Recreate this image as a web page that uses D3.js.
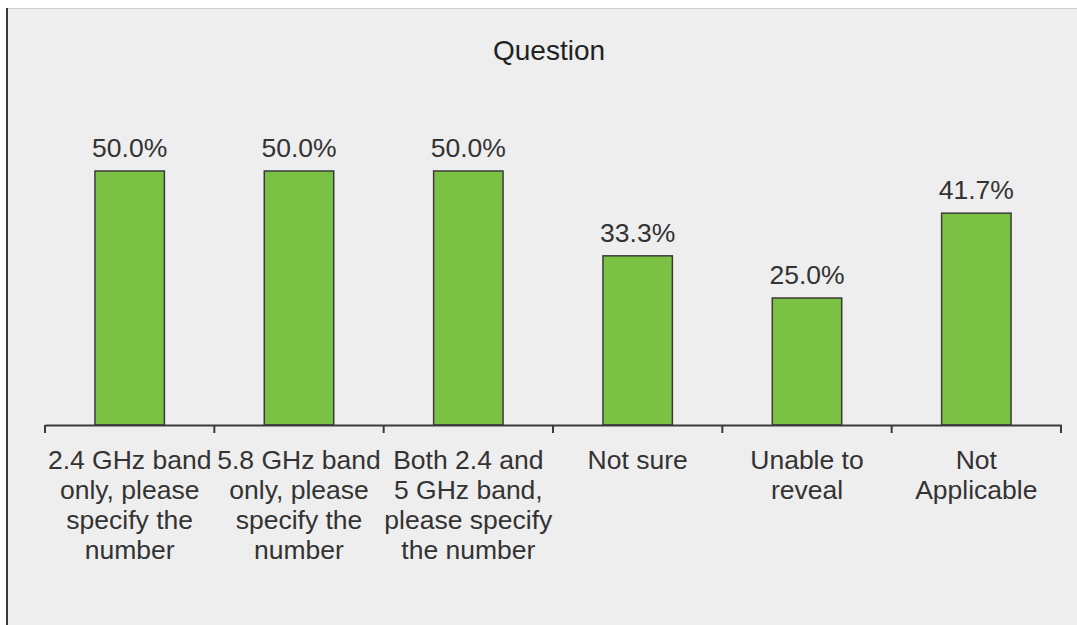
<!DOCTYPE html>
<html><head><meta charset="utf-8">
<script src="https://cdn.jsdelivr.net/npm/d3@7"></script>
<style>body{margin:0;background:#fff;}svg{display:block;}</style>
</head><body>
<script>
const categories = [
  ["2.4 GHz band", "only, please", "specify the", "number"],
  ["5.8 GHz band", "only, please", "specify the", "number"],
  ["Both 2.4 and", "5 GHz band,", "please specify", "the number"],
  ["Not sure"],
  ["Unable to", "reveal"],
  ["Not", "Applicable"]
];
const values = [50.0, 50.0, 50.0, 33.3, 25.0, 41.7];
const title = "Question";

const W = 1077, H = 625;
const svg = d3.select("body").append("svg").attr("width", W).attr("height", H);
const font = "'Liberation Sans', Arial, sans-serif";

svg.append("rect").attr("x", 8).attr("y", 8).attr("width", W - 8).attr("height", H - 8).attr("fill", "#eeeeee");
svg.append("line").attr("x1", 8).attr("x2", W).attr("y1", 8.5).attr("y2", 8.5).attr("stroke", "#cfcfcf").attr("stroke-width", 1);
svg.append("line").attr("x1", 7).attr("x2", 7).attr("y1", 8).attr("y2", H).attr("stroke", "#3a3a3a").attr("stroke-width", 2);

const x = d3.scaleBand().domain(d3.range(categories.length)).range([45, 1061]).paddingInner(0).paddingOuter(0);
const y = d3.scaleLinear().domain([0, 50]).range([425, 171]);
const bw = x.bandwidth() * 0.41;

svg.append("text").attr("x", 549).attr("y", 60).attr("text-anchor", "middle")
  .attr("font-family", font).attr("font-size", 28).attr("fill", "#222").text(title);

svg.selectAll("rect.bar").data(values).enter().append("rect").attr("class", "bar")
  .attr("x", (d, i) => x(i) + x.bandwidth() / 2 - bw / 2)
  .attr("y", d => y(d)).attr("width", bw).attr("height", d => y(0) - y(d))
  .attr("fill", "#7bc144").attr("stroke", "#3a3a3a").attr("stroke-width", 1.5);

svg.selectAll("text.val").data(values).enter().append("text").attr("class", "val")
  .attr("x", (d, i) => x(i) + x.bandwidth() / 2).attr("y", d => y(d) - 14)
  .attr("text-anchor", "middle").attr("font-family", font).attr("font-size", 26.5).attr("fill", "#333")
  .text(d => d.toFixed(1) + "%");

// axis
const axis = d3.axisBottom(x).tickSize(0).tickFormat("");
const gA = svg.append("g").attr("transform", "translate(0,425)").call(axis);
gA.select(".domain").attr("stroke", "#3a3a3a").attr("stroke-width", 2);
const tickPos = d3.range(categories.length + 1).map(i => i < categories.length ? x(i) : x(categories.length - 1) + x.bandwidth());
svg.selectAll("line.tk").data(tickPos).enter().append("line").attr("class", "tk")
  .attr("x1", d => d).attr("x2", d => d).attr("y1", 425).attr("y2", 433)
  .attr("stroke", "#3a3a3a").attr("stroke-width", 2);

categories.forEach((lines, i) => {
  const t = svg.append("text").attr("text-anchor", "middle").attr("font-family", font)
    .attr("font-size", 26.5).attr("fill", "#333");
  lines.forEach((ln, j) => {
    t.append("tspan").attr("x", x(i) + x.bandwidth() / 2).attr("y", 469 + j * 30).text(ln);
  });
});
</script>
</body></html>
